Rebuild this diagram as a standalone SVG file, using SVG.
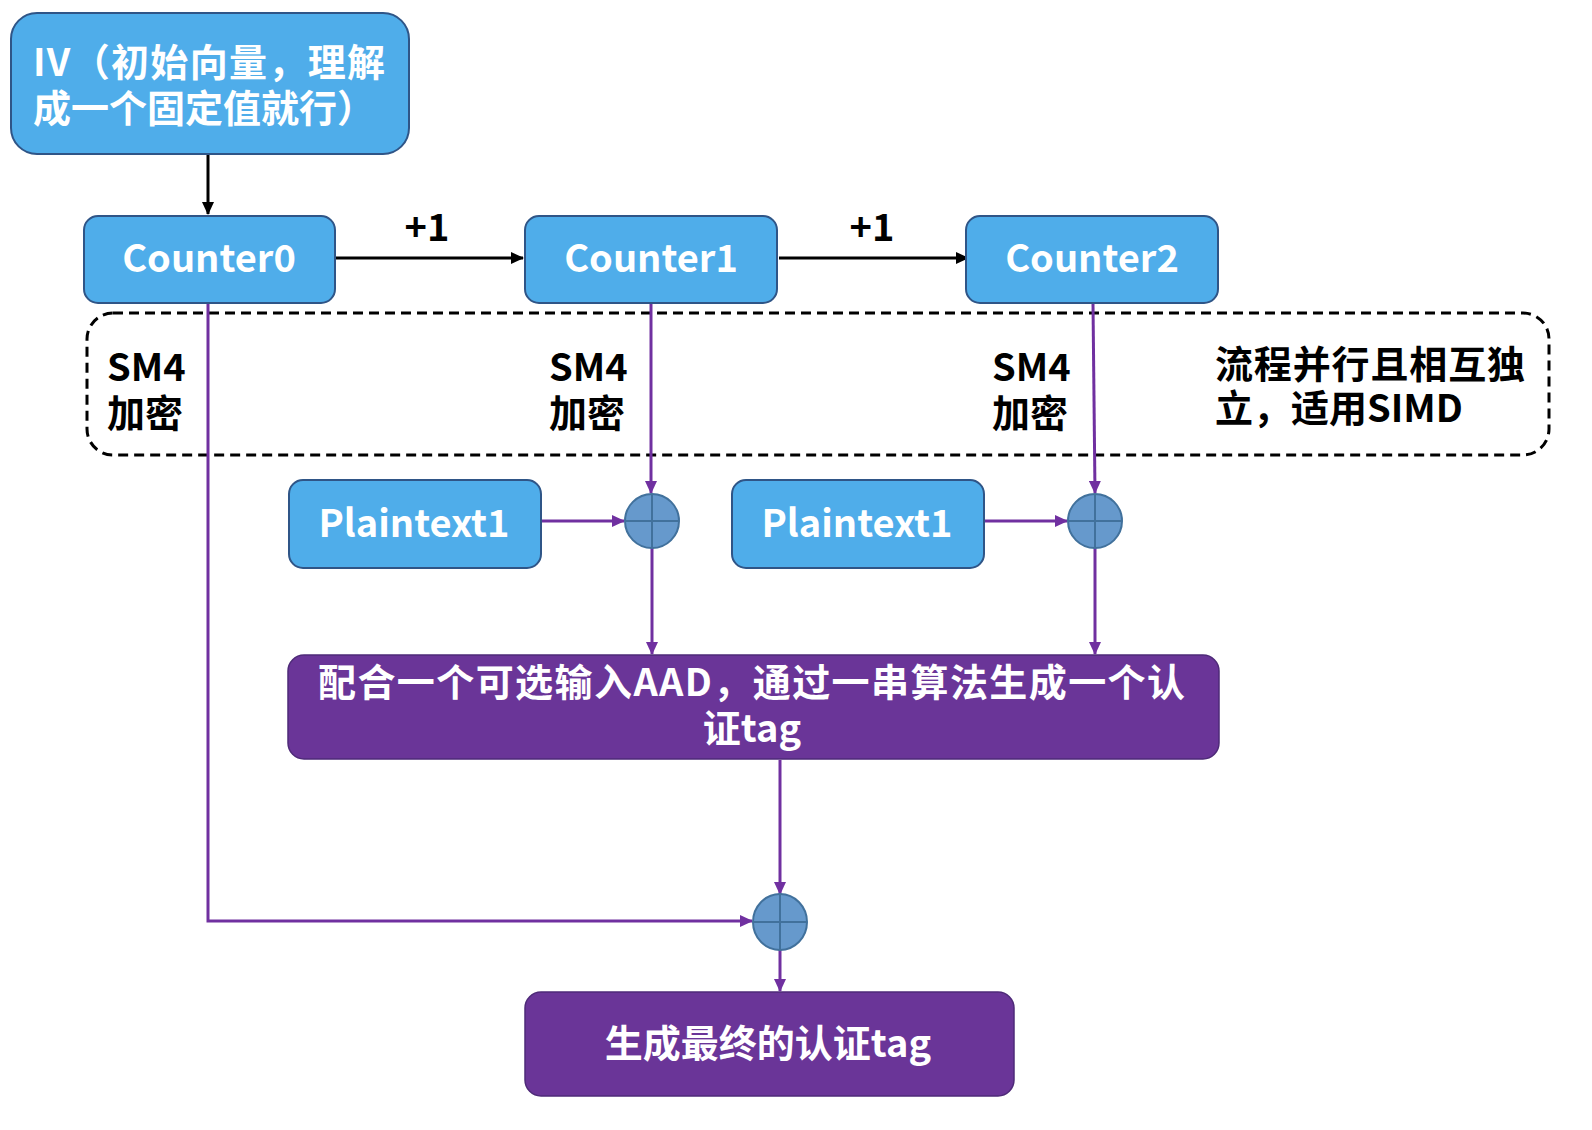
<svg xmlns="http://www.w3.org/2000/svg" width="1592" height="1130" viewBox="0 0 1592 1130">
<defs>
<style>
.blue{fill:#4FADEA;stroke:#2F5587;stroke-width:2}
.purp{fill:#6A3598;stroke:#4E2A78;stroke-width:1.5}
.xor{fill:#6699CC;stroke:#41719C;stroke-width:2}
.wt{fill:#ffffff;font-family:"Noto Sans CJK SC","Noto Sans",sans-serif;font-weight:bold;font-size:38px}
.bt{fill:#000000;font-family:"Noto Sans CJK SC","Noto Sans",sans-serif;font-weight:bold;font-size:38px}
.kl{stroke:#000;stroke-width:3;fill:none}
.pl{stroke:#7030A0;stroke-width:3;fill:none}
</style>
<marker id="ak" markerWidth="13" markerHeight="12" refX="12" refY="6" orient="auto" markerUnits="userSpaceOnUse" viewBox="0 0 13 12"><path d="M0,0 L13,6 L0,12 z" fill="#000"/></marker>
<marker id="ap" markerWidth="13" markerHeight="12" refX="12" refY="6" orient="auto" markerUnits="userSpaceOnUse" viewBox="0 0 13 12"><path d="M0,0 L13,6 L0,12 z" fill="#7030A0"/></marker>
</defs>
<rect width="1592" height="1130" fill="#ffffff"/>

<g id="parallel-region">
<rect x="87" y="313" width="1462" height="142" rx="26" fill="none" stroke="#000" stroke-width="3" stroke-dasharray="10,6"/>
<text class="bt" x="107" y="381">SM4</text>
<text class="bt" x="107" y="427">加密</text>
<text class="bt" x="549" y="381">SM4</text>
<text class="bt" x="549" y="427">加密</text>
<text class="bt" x="992" y="381">SM4</text>
<text class="bt" x="992" y="427">加密</text>
<text class="bt" x="1215" y="378" textLength="310" lengthAdjust="spacing">流程并行且相互独</text>
<text class="bt" x="1215" y="422">立，适用SIMD</text>
</g>

<g id="connectors">
<line class="kl" x1="208" y1="155" x2="208" y2="214" marker-end="url(#ak)"/>
<line class="kl" x1="336" y1="258" x2="523" y2="258" marker-end="url(#ak)"/>
<line class="kl" x1="779" y1="258" x2="968" y2="258" marker-end="url(#ak)"/>
<text class="bt" x="427" y="241" text-anchor="middle">+1</text>
<text class="bt" x="872" y="241" text-anchor="middle">+1</text>
<line class="pl" x1="651" y1="304" x2="651" y2="493" marker-end="url(#ap)"/>
<line class="pl" x1="1093" y1="304" x2="1095" y2="493" marker-end="url(#ap)"/>
<line class="pl" x1="542" y1="521" x2="624" y2="521" marker-end="url(#ap)"/>
<line class="pl" x1="985" y1="521" x2="1067" y2="521" marker-end="url(#ap)"/>
<line class="pl" x1="652" y1="548" x2="652" y2="654" marker-end="url(#ap)"/>
<line class="pl" x1="1095" y1="548" x2="1095" y2="654" marker-end="url(#ap)"/>
<line class="pl" x1="780" y1="760" x2="780" y2="894" marker-end="url(#ap)"/>
<polyline class="pl" points="208,304 208,921 752,921" marker-end="url(#ap)"/>
<line class="pl" x1="780" y1="950" x2="780" y2="991" marker-end="url(#ap)"/>
</g>

<g id="iv">
<rect class="blue" x="11" y="13" width="398" height="141" rx="26"/>
<text class="wt" x="33" y="76" textLength="352" lengthAdjust="spacing">IV（初始向量，理解</text>
<text class="wt" x="33" y="122" textLength="342" lengthAdjust="spacing">成一个固定值就行）</text>
</g>

<g id="counter0">
<rect class="blue" x="84" y="216" width="251" height="87" rx="14"/>
<text class="wt" x="209" y="272" text-anchor="middle">Counter0</text>
</g>
<g id="counter1">
<rect class="blue" x="525" y="216" width="252" height="87" rx="14"/>
<text class="wt" x="651" y="272" text-anchor="middle">Counter1</text>
</g>
<g id="counter2">
<rect class="blue" x="966" y="216" width="252" height="87" rx="14"/>
<text class="wt" x="1092" y="272" text-anchor="middle">Counter2</text>
</g>

<g id="plaintext1a">
<rect class="blue" x="289" y="480" width="252" height="88" rx="14"/>
<text class="wt" x="414" y="537" text-anchor="middle">Plaintext1</text>
</g>
<g id="plaintext1b">
<rect class="blue" x="732" y="480" width="252" height="88" rx="14"/>
<text class="wt" x="857" y="537" text-anchor="middle">Plaintext1</text>
</g>

<g id="xor1">
<circle class="xor" cx="652" cy="521" r="27"/>
<path d="M625,521 H679 M652,494 V548" stroke="#41719C" stroke-width="2"/>
</g>
<g id="xor2">
<circle class="xor" cx="1095" cy="521" r="27"/>
<path d="M1068,521 H1122 M1095,494 V548" stroke="#41719C" stroke-width="2"/>
</g>

<g id="auth">
<rect class="purp" x="288" y="655" width="931" height="104" rx="16"/>
<text class="wt" x="318" y="696" textLength="867" lengthAdjust="spacing">配合一个可选输入AAD，通过一串算法生成一个认</text>
<text class="wt" x="752" y="742" text-anchor="middle">证tag</text>
</g>

<g id="xor3">
<ellipse class="xor" cx="780" cy="922" rx="27" ry="28"/>
<path d="M753,922 H807 M780,894 V950" stroke="#41719C" stroke-width="2"/>
</g>

<g id="final">
<rect class="purp" x="525" y="992" width="489" height="104" rx="16"/>
<text class="wt" x="768" y="1057" text-anchor="middle">生成最终的认证tag</text>
</g>
</svg>
